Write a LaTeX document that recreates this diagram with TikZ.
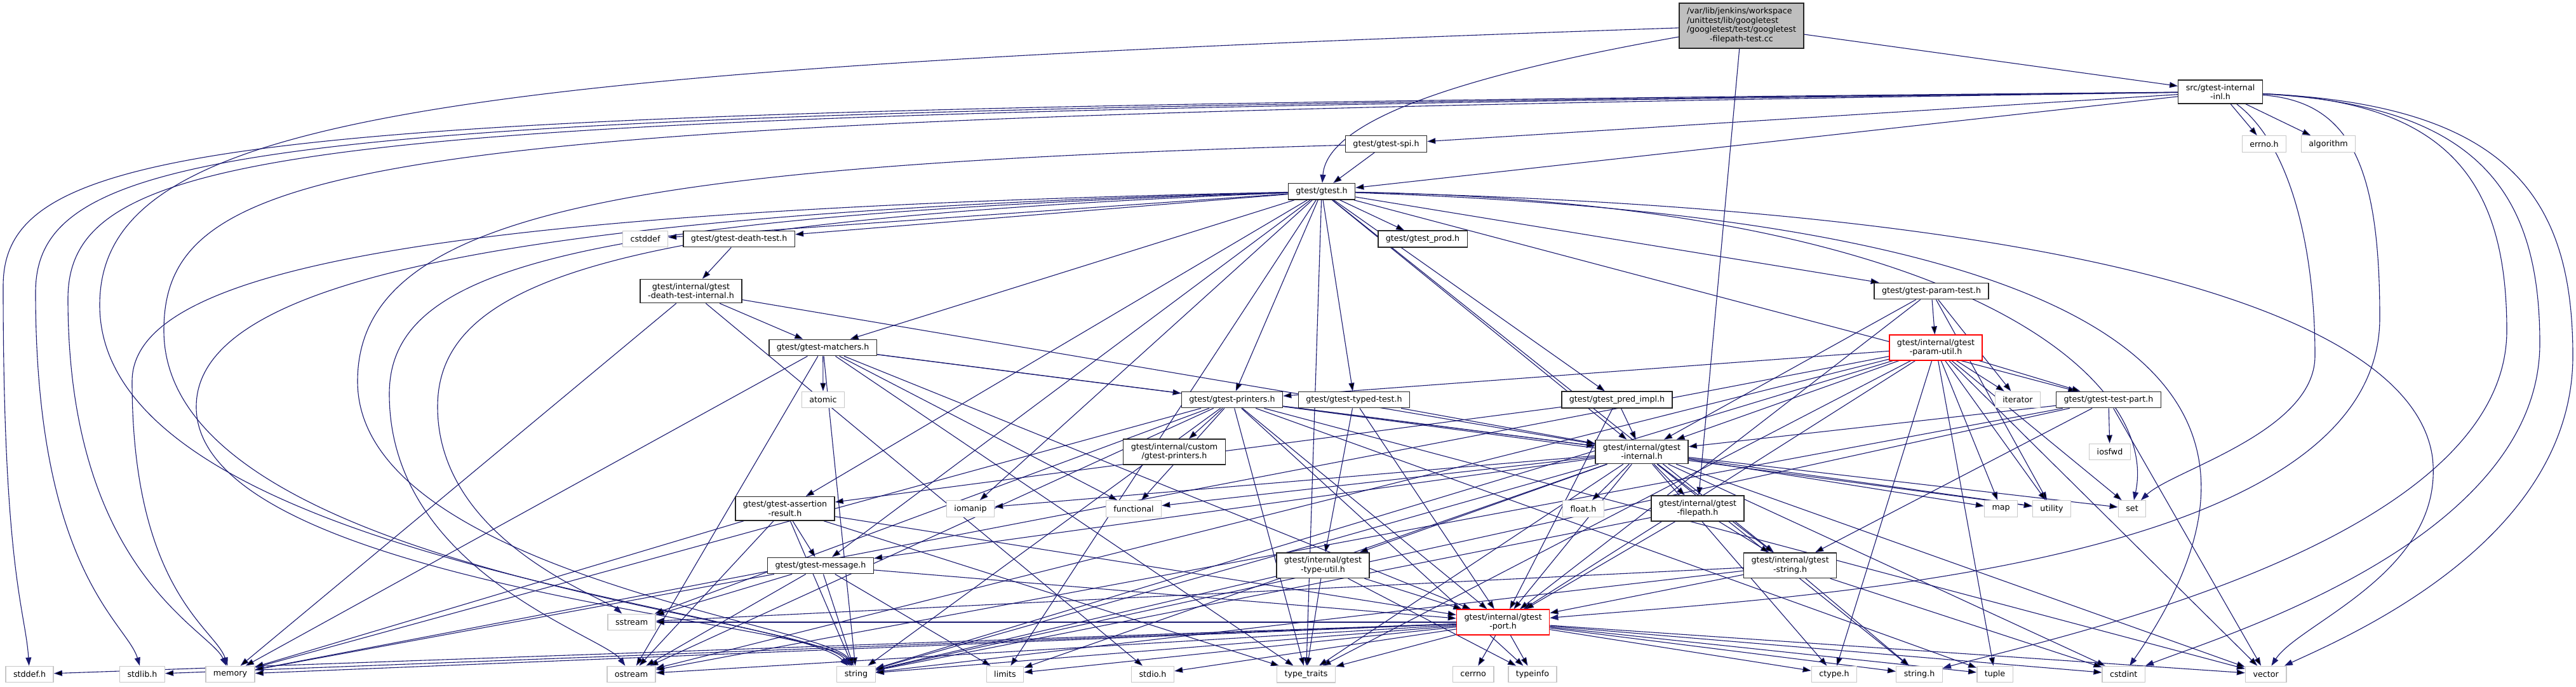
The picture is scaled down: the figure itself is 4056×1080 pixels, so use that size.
\documentclass[tikz,border=0pt]{standalone}
\usepackage{fontspec}
\setmainfont{DejaVu Sans}
\usetikzlibrary{arrows.meta,backgrounds}
\definecolor{edgenavy}{HTML}{191970}
\definecolor{rootgray}{HTML}{BFBFBF}
\definecolor{sysgray}{HTML}{C8C8C8}
\definecolor{truncred}{HTML}{FF0000}

\begin{document}
\begin{tikzpicture}[
  x=1pt, y=-1pt,
  filebox/.style={
    rectangle, draw=black!85, line width=1.4pt, fill=white,
    minimum height=25.5pt, inner xsep=12pt, inner ysep=6.5pt,
    align=center, font=\fontsize{12.7}{14.5}\selectfont,
  },
  sysbox/.style={filebox, draw=sysgray},
  truncbox/.style={filebox, draw=truncred},
  rootbox/.style={filebox, fill=rootgray},
  dep/.style={-{Triangle[length=13pt,width=9pt]}, draw=edgenavy, line width=1.1pt},
]
\useasboundingbox (0,0) rectangle (4056,1080);

\node[rootbox] (root) at (2742,40.5) {\begin{tabular}{@{}l@{}}/var/lib/jenkins/workspace\\/unittest/lib/googletest\\/googletest/test/googletest\\\multicolumn{1}{@{}c@{}}{-filepath-test.cc}\end{tabular}};

\node[filebox] (inl) at (3496,144.5) {src/gtest-internal\\-inl.h};
\node[sysbox] (errnoh) at (3565,226.5) {errno.h};
\node[sysbox] (algo) at (3666,226.5) {algorithm};
\node[filebox] (spi) at (2182.5,226.5) {gtest/gtest-spi.h};
\node[filebox] (gtest) at (2081,301.3) {gtest/gtest.h};

\node[sysbox] (cstddef) at (1016,376) {cstddef};
\node[filebox] (death) at (1163.7,376) {gtest/gtest-death-test.h};
\node[filebox] (prod) at (2240,376) {gtest/gtest\_prod.h};
\node[filebox] (deathint) at (1088,458) {gtest/internal/gtest\\-death-test-internal.h};
\node[filebox] (param) at (3041,458) {gtest/gtest-param-test.h};
\node[filebox] (matchers) at (1295.7,547) {gtest/gtest-matchers.h};
\node[truncbox] (paramutil) at (3048,547) {gtest/internal/gtest\\-param-util.h};

\node[sysbox] (atomic) at (1296,629) {atomic};
\node[filebox] (printers) at (1940,629) {gtest/gtest-printers.h};
\node[filebox] (typed) at (2132,629) {gtest/gtest-typed-test.h};
\node[filebox] (pred) at (2546,629) {gtest/gtest\_pred\_impl.h};
\node[sysbox] (iterator) at (3177,629) {iterator};
\node[filebox] (testpart) at (3320,629) {gtest/gtest-test-part.h};
\node[filebox] (custom) at (1849,711) {gtest/internal/custom\\/gtest-printers.h};
\node[filebox] (internal) at (2585,711) {gtest/internal/gtest\\-internal.h};
\node[sysbox] (iosfwd) at (3322,711) {iosfwd};

\node[filebox] (assertion) at (1236,800.3) {gtest/gtest-assertion\\-result.h};
\node[sysbox] (iomanip) at (1528,800.5) {iomanip};
\node[sysbox] (functional) at (1785,800.5) {functional};
\node[sysbox] (floath) at (2493,800.5) {float.h};
\node[filebox] (filepath) at (2673,800) {gtest/internal/gtest\\-filepath.h};
\node[sysbox] (mapn) at (3150.6,800.5) {map};
\node[sysbox] (utility) at (3230.5,800.5) {utility};
\node[sysbox] (setn) at (3357,800.5) {set};

\node[filebox] (message) at (1292,890) {gtest/gtest-message.h};
\node[filebox] (typeutil) at (2083,889.7) {gtest/internal/gtest\\-type-util.h};
\node[filebox] (gstring) at (2818.6,889.7) {gtest/internal/gtest\\-string.h};
\node[sysbox] (sstream) at (994.6,979) {sstream};
\node[truncbox] (port) at (2366.6,979) {gtest/internal/gtest\\-port.h};

\node[sysbox] (stddefh) at (46.6,1061) {stddef.h};
\node[sysbox] (stdlibh) at (224,1061) {stdlib.h};
\node[sysbox] (memory) at (362.5,1061) {memory};
\node[sysbox] (ostream) at (994,1061) {ostream};
\node[sysbox] (string) at (1348,1061) {string};
\node[sysbox] (limits) at (1582.5,1061) {limits};
\node[sysbox] (stdioh) at (1815,1061) {stdio.h};
\node[sysbox] (typetraits) at (2056.5,1061) {type\_traits};
\node[sysbox] (cerrno) at (2319.6,1061) {cerrno};
\node[sysbox] (typeinfo) at (2413,1061) {typeinfo};
\node[sysbox] (ctypeh) at (2888,1061) {ctype.h};
\node[sysbox] (stringh) at (3022,1061) {string.h};
\node[sysbox] (tuple) at (3141,1061) {tuple};
\node[sysbox] (cstdint) at (3343.7,1061) {cstdint};
\node[sysbox] (vector) at (3567.7,1061) {vector};

\begin{scope}[on background layer]
\fill[white] (0,0) rectangle (4056,1080);

\draw[dep] (root) edge (inl) edge (filepath);
\draw[dep] (root) .. controls (2350,110) and (2090,180) .. (gtest);
\draw[dep] (root) .. controls (700,110) and (157,180) .. (157,480) .. controls (157,880) and (1250,960) .. (string);

\draw[dep] (inl) edge (errnoh) edge (algo) edge (spi) edge (gtest);
\draw[dep] (inl) .. controls (450,172) and (5,200) .. (5,450) .. controls (5,900) and (40,960) .. (stddefh);
\draw[dep] (inl) .. controls (500,176) and (56,205) .. (56,460) .. controls (56,900) and (200,980) .. (stdlibh);
\draw[dep] (inl) .. controls (550,180) and (107,210) .. (107,470) .. controls (107,900) and (330,990) .. (memory);
\draw[dep] (inl) .. controls (650,186) and (258,230) .. (258,520) .. controls (258,900) and (1280,970) .. (string);
\draw[dep] (inl) .. controls (3610,230) and (3645,400) .. (3645,560) .. controls (3645,680) and (3420,740) .. (setn);
\draw[dep] (inl) .. controls (3700,160) and (3747,260) .. (3747,500) .. controls (3747,900) and (2800,940) .. (port);
\draw[dep] (inl) .. controls (3850,160) and (3947,280) .. (3947,520) .. controls (3947,850) and (3250,1000) .. (stringh);
\draw[dep] (inl) .. controls (3900,165) and (3999,300) .. (3999,540) .. controls (3999,850) and (3500,1000) .. (cstdint);
\draw[dep] (inl) .. controls (3950,165) and (4051,310) .. (4051,560) .. controls (4051,850) and (3700,1000) .. (vector);

\draw[dep] (spi) edge (gtest);
\draw[dep] (spi) .. controls (1000,260) and (563,330) .. (563,600) .. controls (563,900) and (1310,985) .. (string);

\draw[dep] (gtest) edge (cstddef) edge (death) edge (prod) edge (matchers) edge (printers)
  edge (typed) edge (pred) edge (param) edge (testpart) edge (internal) edge (assertion)
  edge (message) edge (iomanip) edge (limits) edge (typetraits) edge (gstring);
\draw[dep] (gtest) .. controls (700,330) and (208,420) .. (208,600) .. controls (208,930) and (340,990) .. (memory);
\draw[dep] (gtest) .. controls (800,335) and (309,440) .. (309,640) .. controls (309,920) and (1300,980) .. (string);
\draw[dep] (gtest) .. controls (900,340) and (613,420) .. (613,620) .. controls (613,900) and (950,1000) .. (ostream);
\draw[dep] (gtest) .. controls (1000,345) and (689,430) .. (689,640) .. controls (689,850) and (950,940) .. (sstream);
\draw[dep] (gtest) .. controls (3100,320) and (3400,600) .. (setn);
\draw[dep] (gtest) .. controls (3300,330) and (3800,500) .. (3830,720) .. controls (3850,900) and (3620,980) .. (vector);
\draw[dep] (gtest) .. controls (3200,340) and (3700,550) .. (cstdint);

\draw[dep] (death) edge (deathint);
\draw[dep] (deathint) edge (stdioh) edge (memory) edge (matchers) edge (internal);
\draw[dep] (matchers) edge (atomic) edge (printers) edge (internal) edge (port) edge (functional)
  edge (memory) edge (ostream) edge (string) edge (typetraits);
\draw[dep] (printers) edge (functional) edge (memory) edge (ostream) edge (sstream) edge (string)
  edge (tuple) edge (typetraits) edge (typeinfo) edge (utility) edge (vector) edge (internal)
  edge (port) edge (custom);
\draw[dep] (typed) edge (internal) edge (port) edge (typeutil);
\draw[dep] (pred) edge (assertion) edge (internal) edge (port);
\draw[dep] (param) edge (iterator) edge (utility) edge (internal) edge (paramutil) edge (port);
\draw[dep] (paramutil) edge (ctypeh) edge (iterator) edge (mapn) edge (memory) edge (ostream)
  edge (setn) edge (string) edge (tuple) edge (typetraits) edge (utility) edge (vector)
  edge (printers) edge (testpart) edge (internal) edge (port);
\draw[dep] (testpart) edge (iosfwd) edge (ostream) edge (string) edge (vector) edge (internal)
  edge (gstring);
\draw[dep] (internal) edge (port) edge (ctypeh) edge (floath) edge (stringh) edge (cstdint)
  edge (functional) edge (iomanip) edge (limits) edge (mapn) edge (setn) edge (string)
  edge (typetraits) edge (utility) edge (vector) edge (message) edge (filepath) edge (gstring)
  edge (typeutil);
\draw[dep] (assertion) edge (memory) edge (ostream) edge (string) edge (typetraits)
  edge (message) edge (port);
\draw[dep] (message) edge (sstream) edge (ostream) edge (memory) edge (string) edge (limits)
  edge (port);
\draw[dep] (filepath) edge (string) edge (port) edge (gstring);
\draw[dep] (typeutil) edge (string) edge (typetraits) edge (typeinfo) edge (port);
\draw[dep] (gstring) edge (stringh) edge (cstdint) edge (sstream) edge (string) edge (port);
\draw[dep] (port) edge (ctypeh) edge (stddefh) edge (stdioh) edge (stdlibh) edge (stringh)
  edge (cerrno) edge (cstdint) edge (limits) edge (memory) edge (string) edge (tuple)
  edge (typetraits) edge (vector) edge (ostream) edge (sstream) edge (typeinfo);
\end{scope}
\end{tikzpicture}
\end{document}
